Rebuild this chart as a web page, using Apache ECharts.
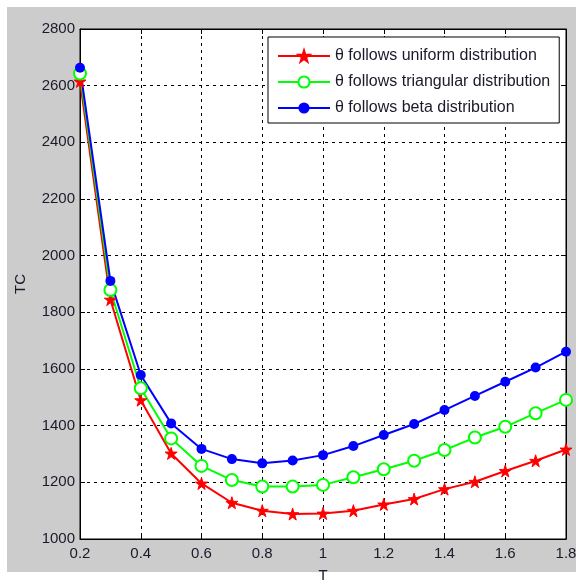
<!DOCTYPE html>
<html>
<head>
<meta charset="utf-8">
<script src="https://cdn.jsdelivr.net/npm/echarts@6/dist/echarts.min.js"></script>
<style>
  html, body { margin: 0; padding: 0; background: #fff; }
  #frame { position: absolute; left: 7px; top: 7px; width: 569px; height: 565px; background: #cccccc; }
  #chart { position: absolute; left: 0; top: 0; width: 576px; height: 581px; }
</style>
</head>
<body>
<div id="frame"></div>
<div id="chart"></div>
<script>
// T values (x axis)
const tValues = [0.2, 0.3, 0.4, 0.5, 0.6, 0.7, 0.8, 0.9, 1.0, 1.1, 1.2, 1.3, 1.4, 1.5, 1.6, 1.7, 1.8];
// TC for each distribution of theta
const uniformTC = [2615, 1845, 1490, 1302, 1196, 1128, 1100, 1088, 1090, 1100, 1122, 1141, 1176, 1202, 1240, 1276, 1316];
const triangularTC = [2643, 1879, 1532, 1355, 1258, 1208, 1185, 1185, 1191, 1218, 1246, 1276, 1314, 1358, 1396, 1444, 1491];
const betaTC = [2663, 1911, 1579, 1408, 1318, 1282, 1267, 1277, 1296, 1328, 1367, 1406, 1455, 1505, 1555, 1605, 1661];

const seriesNames = [
  'θ follows uniform distribution',
  'θ follows triangular distribution',
  'θ follows beta distribution'
];

const star = 'path://M50,0 L61,35 L98,35 L68,57 L79,91 L50,70 L21,91 L32,57 L2,35 L39,35 Z';

function pairs(ys) {
  return tValues.map((t, i) => [t, ys[i]]);
}

const chart = echarts.init(document.getElementById('chart'), null, { renderer: 'canvas' });

const font = 'Liberation Sans, Arial, sans-serif';
const axisText = { color: '#1a1a2a', fontSize: 15, fontFamily: font };
const dashed = { show: true, lineStyle: { color: '#000', type: [3, 4], width: 1 } };
const blackLine = { show: true, lineStyle: { color: '#000', width: 1 } };
const innerTick = { show: true, inside: true, length: 5, lineStyle: { color: '#000' } };

chart.setOption({
  backgroundColor: 'transparent',
  animation: false,
  grid: {
    left: 80, top: 29, right: 10, bottom: 42,
    outerBoundsMode: 'none', containLabel: false,
    show: true, backgroundColor: '#fff', borderColor: '#000', borderWidth: 1
  },
  legend: {
    orient: 'vertical',
    left: 268, top: 37,
    padding: [11, 9, 7, 9],
    itemGap: 10,
    itemWidth: 52, itemHeight: 14,
    backgroundColor: '#fff',
    borderColor: '#000', borderWidth: 1, borderRadius: 0,
    textStyle: { color: '#1a1a2a', fontSize: 16, fontFamily: font },
    data: seriesNames
  },
  xAxis: [
    {
      type: 'value', min: 0.2, max: 1.8, interval: 0.2,
      name: 'T', nameLocation: 'middle', nameGap: 29, nameTextStyle: axisText,
      axisLine: blackLine, axisTick: innerTick,
      axisLabel: Object.assign({ margin: 7, formatter: v => String(Math.round(v * 10) / 10) }, axisText),
      splitLine: dashed
    },
    {
      type: 'value', min: 0.2, max: 1.8, interval: 0.2, position: 'top',
      axisLine: blackLine, axisTick: innerTick, axisLabel: { show: false }, splitLine: { show: false }
    }
  ],
  yAxis: [
    {
      type: 'value', min: 1000, max: 2800, interval: 200,
      name: 'TC', nameLocation: 'middle', nameGap: 52, nameRotate: 90, nameTextStyle: axisText,
      axisLine: blackLine, axisTick: innerTick,
      axisLabel: Object.assign({ margin: 5, formatter: v => String(v) }, axisText),
      splitLine: dashed
    },
    {
      type: 'value', min: 1000, max: 2800, interval: 200, position: 'right',
      axisLine: blackLine, axisTick: innerTick, axisLabel: { show: false }, splitLine: { show: false }
    }
  ],
  series: [
    {
      name: seriesNames[0], type: 'line', data: pairs(uniformTC),
      symbol: star, symbolSize: 12,
      lineStyle: { color: '#ff0000', width: 2 },
      itemStyle: { color: '#ff0000', borderColor: '#ff0000', borderWidth: 1 }
    },
    {
      name: seriesNames[1], type: 'line', data: pairs(triangularTC),
      symbol: 'emptyCircle', symbolSize: 12,
      lineStyle: { color: '#00ff00', width: 2 },
      itemStyle: { color: '#00ff00', borderColor: '#00ff00', borderWidth: 2 }
    },
    {
      name: seriesNames[2], type: 'line', data: pairs(betaTC),
      symbol: 'circle', symbolSize: 10,
      lineStyle: { color: '#0000ff', width: 2 },
      itemStyle: { color: '#0000ff' }
    }
  ]
});
</script>
</body>
</html>
